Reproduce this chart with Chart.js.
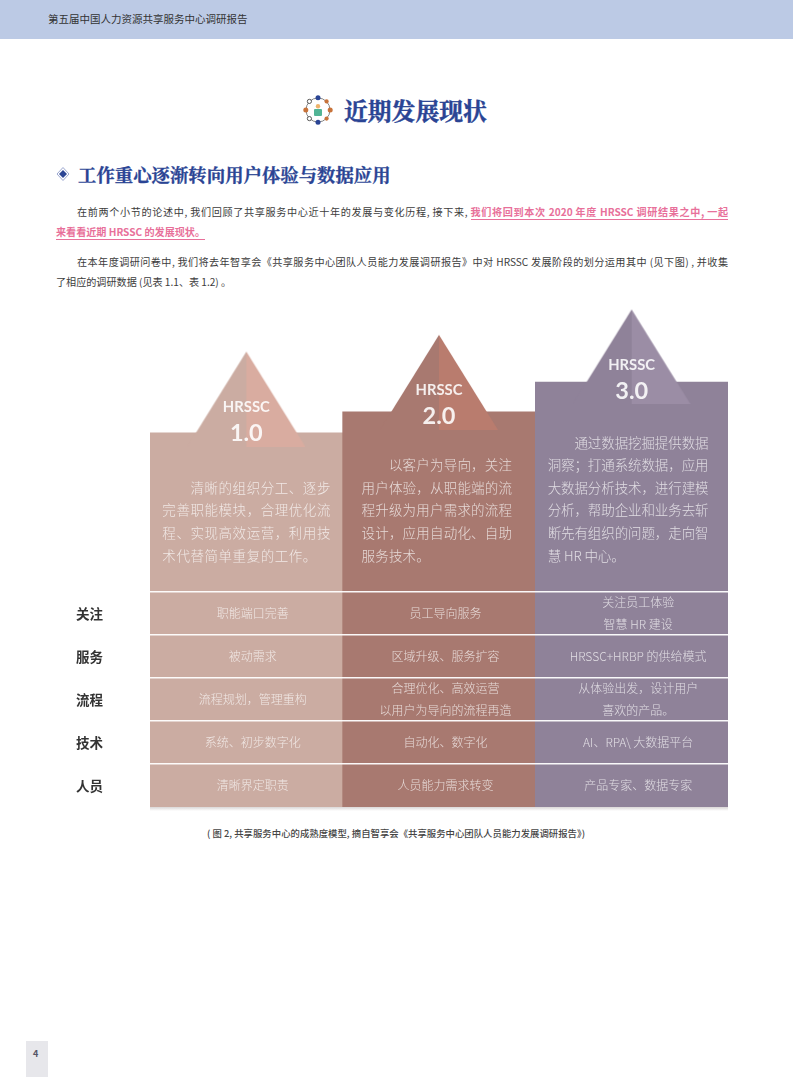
<!DOCTYPE html>
<html lang="zh"><head><meta charset="utf-8">
<script src="https://cdn.jsdelivr.net/npm/chart.js@4"></script>
<style>
html,body{margin:0;padding:0;background:#fff;width:793px;height:1077px;overflow:hidden;font-family:"Noto Sans CJK SC","Noto Sans",sans-serif;color:#3a3a3a}
.abs{position:absolute;white-space:nowrap}
#band{left:0;top:0;width:793px;height:39px;background:#BCCAE5}
#hd{left:48px;top:10px;font-size:10.5px;line-height:18px;color:#333}
#ttl{left:344px;top:92px;font-size:23.8px;line-height:36px;font-weight:700;color:#2A4494;-webkit-text-stroke:.4px #2A4494;font-family:"Noto Serif CJK SC","Noto Sans CJK SC",serif}
#sub{left:78px;top:160px;font-size:18.4px;line-height:28px;font-weight:700;color:#2A4494;-webkit-text-stroke:.3px #2A4494;font-family:"Noto Serif CJK SC","Noto Sans CJK SC",serif}
.ln{font-size:10.1px;line-height:16px;color:#3c3c3c}
.just{text-align:justify;text-align-last:justify;white-space:normal;height:16px;overflow:hidden}
.pk{color:#E8709A;font-weight:700;border-bottom:1px solid #E8709A}
#cap{left:207px;top:825px;width:378px;font-size:9.4px;line-height:16px;font-weight:500;color:#444}
#pg{left:26px;top:1041px;width:22px;height:36px;background:#E7E7EB}
#pgn{left:33px;top:1047px;font-size:9px;line-height:14px;color:#556;font-weight:700}
#chartBox{position:absolute;left:76px;top:280px}
</style></head><body>
<div class="abs" id="band"></div>
<div class="abs" id="hd">第五届中国人力资源共享服务中心调研报告</div>
<svg class="abs" style="left:303px;top:95px" width="30" height="30" viewBox="0 0 30 30">
<circle cx="15" cy="15" r="12" fill="none" stroke="#666" stroke-width=".8"/>
<circle cx="15" cy="2.8" r="2.5" fill="#2A4494"/><circle cx="15" cy="27.2" r="2.5" fill="#2A4494"/>
<circle cx="2.8" cy="15" r="2.5" fill="#C8733A"/><circle cx="27.2" cy="15" r="2.5" fill="#C8733A"/>
<circle cx="6.4" cy="6.4" r="2.1" fill="#fff" stroke="#333" stroke-width=".8"/><circle cx="23.6" cy="6.4" r="2.1" fill="#C8733A"/>
<circle cx="6.4" cy="23.6" r="2.1" fill="#fff" stroke="#333" stroke-width=".8"/><circle cx="23.6" cy="23.6" r="2.1" fill="#C8733A"/>
<circle cx="15" cy="11.3" r="2.2" fill="#EDB36B"/><rect x="11" y="14" width="8" height="7" rx="1" fill="#52B596"/>
</svg>
<div class="abs" id="ttl">近期发展现状</div>
<svg class="abs" style="left:56px;top:167px" width="14" height="14" viewBox="0 0 14 14"><path d="M7 0.5 13 7 7 13.5 1 7Z" fill="#fff" stroke="#9AA6CF" stroke-width="1"/><path d="M7 3 11 7 7 11 3 7Z" fill="#2A4494"/></svg>
<div class="abs" id="sub">工作重心逐渐转向用户体验与数据应用</div>
<div class="abs ln just" style="left:77px;top:204px;width:651px">在前两个小节的论述中, 我们回顾了共享服务中心近十年的发展与变化历程, 接下来, <span class="pk">我们将回到本次 2020 年度 HRSSC 调研结果之中, 一起</span></div>
<div class="abs ln" style="left:56px;top:224px"><span class="pk">来看看近期 HRSSC 的发展现状。</span></div>
<div class="abs ln just" style="left:77px;top:254px;width:651px">在本年度调研问卷中, 我们将去年智享会《共享服务中心团队人员能力发展调研报告》中对 HRSSC 发展阶段的划分运用其中 (见下图) , 并收集</div>
<div class="abs ln" style="left:56px;top:274px">了相应的调研数据 (见表 1.1、表 1.2) 。</div>
<div id="chartBox"><canvas id="c" width="664" height="540" style="display:block;width:664px;height:540px"></canvas></div>
<div class="abs just" id="cap">( 图 2, 共享服务中心的成熟度模型, 摘自智享会《共享服务中心团队人员能力发展调研报告》)</div>
<div class="abs" id="pg"></div><div class="abs" id="pgn">4</div>
<script>
// ---- data ----
const stages = ['HRSSC 1.0','HRSSC 2.0','HRSSC 3.0'];
const stageNames = ['HRSSC','HRSSC','HRSSC'];
const stageLevels = ['1.0','2.0','3.0'];
const rowLabels = ['人员','技术','流程','服务','关注'];
const rowBoundaries = [1,2,3,4,5];
const rowPeople = [1,1,1];
const rowTech = [1,1,1];
const rowProcess = [1,1,1];
const rowService = [1,1,1];
const rowFocus = [1,1,1];
const blockHeights = [3.70,4.19,4.88];
const peakValues = [10.59,10.98,11.57];
const blockText = [
 ['\u3000\u3000清晰的组织分工、逐步','完善职能模块\uFF0C合理优化流','程、实现高效运营\uFF0C利用技','术代替简单重复的工作。'],
 ['\u3000\u3000以客户为导向\uFF0C关注','用户体验\uFF0C从职能端的流','程升级为用户需求的流程','设计\uFF0C应用自动化、自助','服务技术。'],
 ['\u3000\u3000通过数据挖掘提供数据','洞察\uFF1B打通系统数据\uFF0C应用','大数据分析技术\uFF0C进行建模','分析\uFF0C帮助企业和业务去斩','断先有组织的问题\uFF0C走向智','慧 HR 中心。']
];
const cellsPeople = [['清晰界定职责'],['人员能力需求转变'],['产品专家、数据专家']];
const cellsTech = [['系统、初步数字化'],['自动化、数字化'],['AI、RPA\\ 大数据平台']];
const cellsProcess = [['流程规划\uFF0C管理重构'],['合理优化、高效运营','以用户为导向的流程再造'],['从体验出发\uFF0C设计用户','喜欢的产品。']];
const cellsService = [['被动需求'],['区域升级、服务扩容'],['HRSSC+HRBP 的供给模式']];
const cellsFocus = [['职能端口完善'],['员工导向服务'],['关注员工体验','智慧 HR 建设']];

// ---- style ----
const barColors = ['#CBACA2','#A87970','#8F8299'];
const triRight = ['#D9ACA0','#B97C6E','#9B8DA5'];
const triLeft = barColors;
const textWhite = 'rgba(255,255,255,0.72)';
const cjk = '"Noto Sans CJK SC",sans-serif';
const triHalf = 59, triH = 95;
function triangleImage(i){
  const cv = document.createElement('canvas');
  cv.width = triHalf*2; cv.height = triH*2;
  const g = cv.getContext('2d');
  g.fillStyle = triLeft[i];
  g.beginPath(); g.moveTo(triHalf,triH); g.lineTo(0,triH*2); g.lineTo(triHalf,triH*2); g.closePath(); g.fill();
  g.fillStyle = triRight[i];
  g.beginPath(); g.moveTo(triHalf,triH); g.lineTo(triHalf*2,triH*2); g.lineTo(triHalf,triH*2); g.closePath(); g.fill();
  return cv;
}
const rowDs = (label,data)=>({type:'bar',label,data,stack:'s',order:2,backgroundColor:barColors,
  borderWidth:0,barPercentage:1,categoryPercentage:1});
const textPlugin = {id:'textPlugin',
  beforeDatasetsDraw(ch){
    const {ctx,chartArea:a}=ch;
    const g=ctx.createLinearGradient(0,a.bottom,0,a.bottom+4);
    g.addColorStop(0,'rgba(150,140,140,.35)');g.addColorStop(1,'rgba(150,140,140,0)');
    ctx.save();ctx.fillStyle=g;ctx.fillRect(a.left,a.bottom,a.right-a.left,4);ctx.restore();
  },
  afterDatasetsDraw(ch){
    const {ctx,scales:{x,y}}=ch;
    ctx.save();
    ctx.textBaseline='middle';
    ctx.fillStyle=textWhite;
    // table rows
    ctx.textAlign='center';
    ctx.font='300 12px '+cjk;
    [cellsPeople,cellsTech,cellsProcess,cellsService,cellsFocus].forEach((row,r)=>{
      row.forEach((lines,c)=>{
        const cx=x.getPixelForValue(c)+6.5, cy=y.getPixelForValue(r+0.5);
        lines.forEach((t,k)=>ctx.fillText(t,cx,cy+(k-(lines.length-1)/2)*21.7));
      });
    });
    // block paragraphs
    const spacing=['0.55px','0.2px','-0.1px'];
    const lefts=[-84,-77.5,-84];
    ctx.textAlign='left';
    blockText.forEach((lines,c)=>{
      ctx.font='300 13.5px '+cjk;
      ctx.letterSpacing=spacing[c];
      lines.forEach((t,k)=>{
        const yy=y.getPixelForValue(5.85)-(lines.length-1-k)*22.6;
        ctx.fillText(t,x.getPixelForValue(c)+lefts[c],yy);
      });
    });
    ctx.letterSpacing='0px';
    // triangle captions
    ctx.textAlign='center';
    ctx.fillStyle='rgba(255,255,255,0.88)';
    stageNames.forEach((n,c)=>{
      const cx=x.getPixelForValue(c), ap=y.getPixelForValue(peakValues[c]);
      ctx.font='700 14.8px Lato,sans-serif';
      ctx.fillText(n,cx,ap+55.6);
      ctx.font='700 23.5px Lato,sans-serif';
      ctx.fillText(stageLevels[c],cx,ap+81.5);
    });
    ctx.restore();
  }
};
new Chart(document.getElementById('c'),{
  data:{labels:stages,datasets:[
    rowDs('人员',rowPeople),rowDs('技术',rowTech),rowDs('流程',rowProcess),rowDs('服务',rowService),rowDs('关注',rowFocus),
    rowDs('概述',blockHeights),
    {type:'line',label:'阶段',data:peakValues,order:1,showLine:false,pointRadius:5,clip:false,
     pointStyle:[0,1,2].map(triangleImage)}
  ]},
  options:{responsive:false,maintainAspectRatio:false,animation:false,devicePixelRatio:1,
    layout:{padding:{top:20,right:12,bottom:13,left:0}},
    plugins:{legend:{display:false},tooltip:{enabled:false}},
    scales:{
      x:{display:false,stacked:true},
      y:{stacked:true,min:0,max:11.79,grid:{display:false,drawTicks:false},border:{display:false},
        afterBuildTicks(s){s.ticks=rowLabels.map((_,i)=>({value:i+0.5}));},
        afterFit(s){s.width=74;},
        ticks:{autoSkip:false,padding:0,crossAlign:'far',color:'#333',font:{family:'"Noto Sans CJK SC"',size:13.5,weight:'700'},
          callback:v=>rowLabels[Math.floor(v)]}
      },
      yLines:{position:'right',min:0,max:11.79,border:{display:false},
        grid:{color:'rgba(255,255,255,0.95)',lineWidth:1.4,drawTicks:false,z:1},
        afterBuildTicks(s){s.ticks=rowBoundaries.map(v=>({value:v}));},
        afterFit(s){s.width=0;},
        ticks:{display:false}
      }
    }
  },
  plugins:[textPlugin]
});
</script>
</body></html>
